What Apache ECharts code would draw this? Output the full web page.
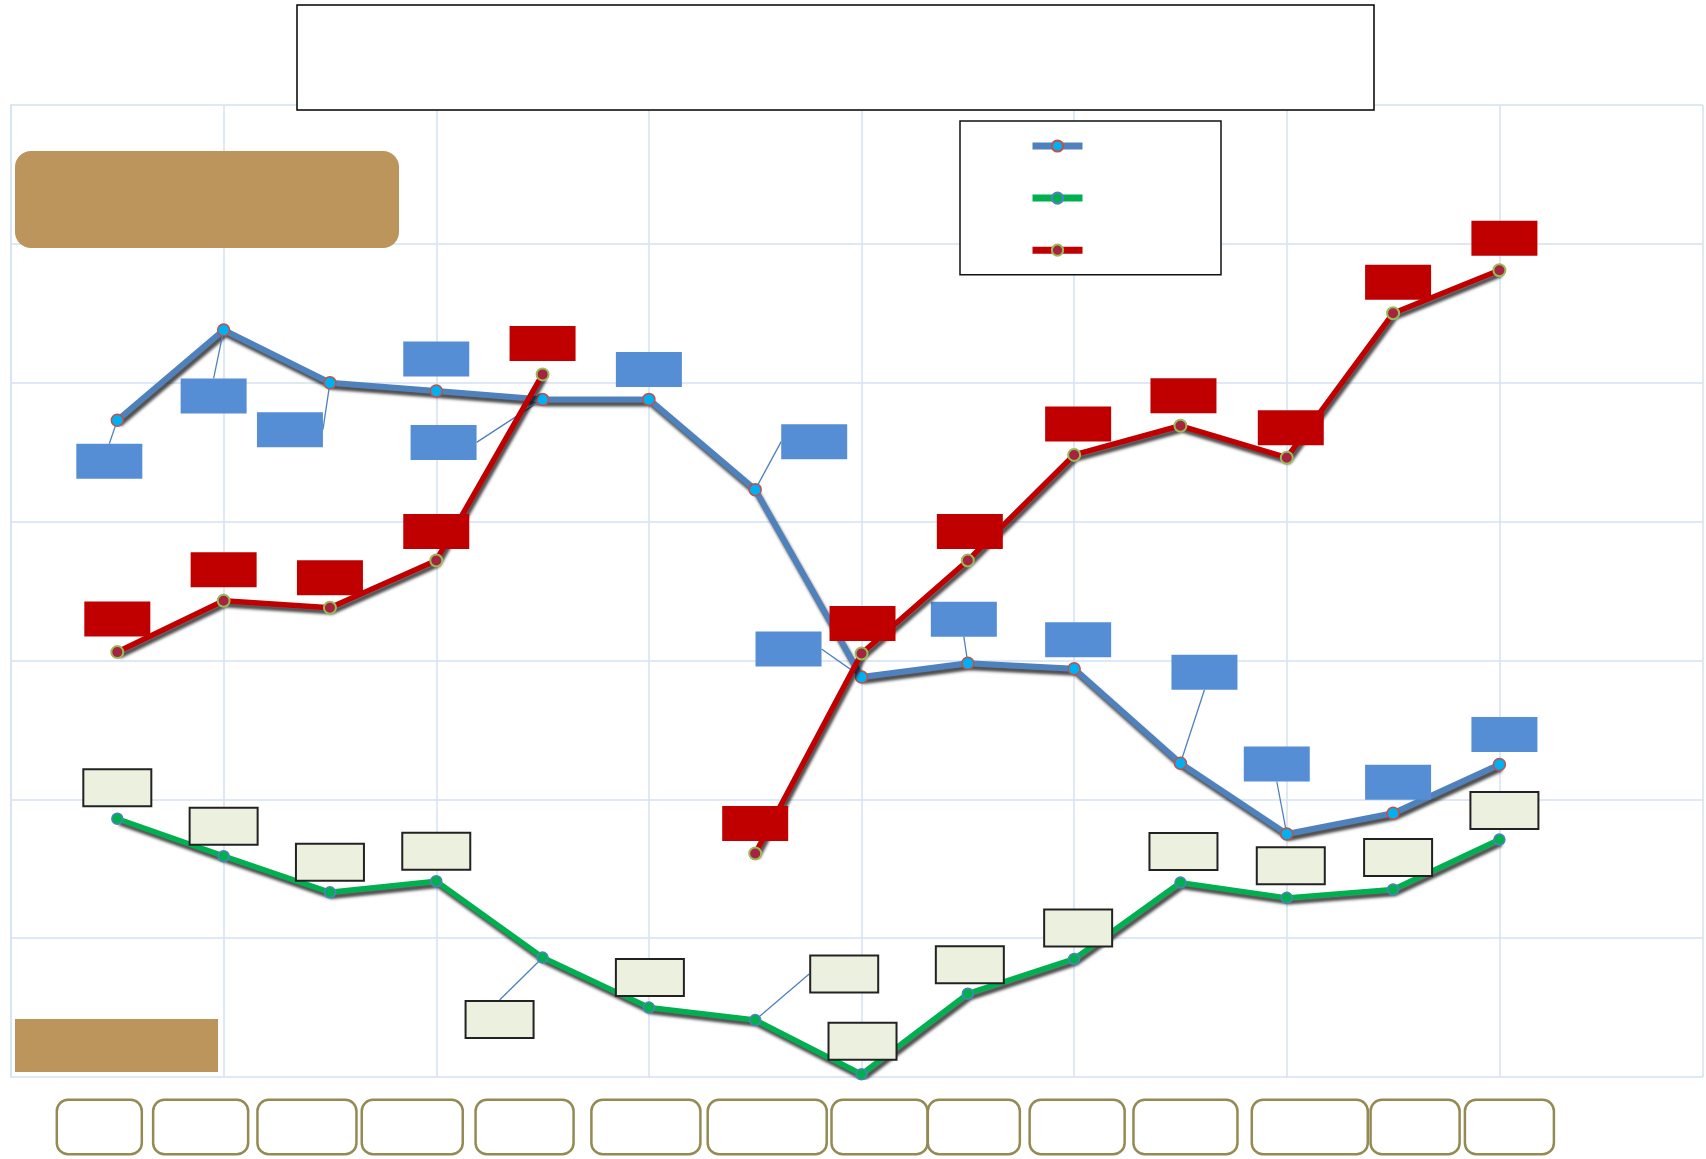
<!DOCTYPE html>
<html>
<head>
<meta charset="utf-8">
<script src="https://cdn.jsdelivr.net/npm/echarts@6/dist/echarts.min.js"></script>
<style>html,body{margin:0;padding:0;background:#fff}#c{width:1706px;height:1159px}</style>
</head>
<body>
<div id="c"></div>
<script>
// ---- data ----
const categories = [1,2,3,4,5,6,7,8,9,10,11,12,13,14];
const seriesNames = ['Series 1','Series 2','Series 3'];
const blueValues  = [4.73, 5.38, 5.00, 4.94, 4.88, 4.88, 4.23, 2.88, 2.98, 2.94, 2.26, 1.75, 1.90, 2.25];
const greenValues = [1.86, 1.59, 1.33, 1.41, 0.86, 0.50, 0.41, 0.02, 0.60, 0.85, 1.40, 1.29, 1.35, 1.71];
const redValues   = [3.06, 3.43, 3.38, 3.72, 5.06, null, 1.61, 3.05, 3.72, 4.48, 4.69, 4.46, 5.50, 5.81];
const categoryLabels = [' ',' ',' ',' ',' ',' ',' ',' ',' ',' ',' ',' ',' ',' '];

// ---- layout / style (not data) ----
const xMax = 15.915;
const boxWidths  = [85, 95, 99, 101, 98, 109, 119, 96, 92, 95, 104, 116, 89, 89];
const boxShift   = [-18, -23, -23, -24, -18, -3, 12, 18, 6, 3, 5, 23, 22, 10];
const blueOff  = [[-8,41],[-10,66],[-40,47],[0,-32],[-99,43],[0,-30],[59,-48],[-73,-28],[-4,-44],[4,-29],[24,-91],[-10,-70],[5,-31],[5,-30]];
const blueLeader = [0,1,2,4,6,7,8,10,11];
const redOff   = [[0,-33],[0,-31],[0,-30],[0,-29],[0,-31],[0,0],[0,-30],[1,-30],[2,-29],[4,-31],[3,-30],[4,-30],[5,-31],[5,-32]];
const greenOff = [[0,-31],[0,-30],[0,-30],[0,-30],[-43,62],[1,-30],[89,-46],[1,-33],[2,-29],[4,-31],[3,-31],[4,-32],[5,-32],[5,-29]];
const greenLeader = [4,6];

function pts(vals){ return vals.map((v,i)=>({value:[categories[i], v]})); }
function withLeaders(arr, leaders){
  return arr.map((d,i)=> leaders.indexOf(i)>=0 ? Object.assign(d,{labelLine:{show:true}}) : d);
}

const rich = {};
categories.forEach((c,i)=>{
  rich['b'+i] = {width: boxWidths[i]-2.5, height: 52, backgroundColor:'#fff', borderColor:'#948A54', borderWidth:2.5, borderRadius:10};
  rich['s'+i] = {width: Math.max(1, Math.abs(boxShift[i])*2)};
});

const chart = echarts.init(document.getElementById('c'), null, {renderer:'canvas'});
const gridColor = '#D5E2F3';

function labelCfg(bg, border, bw){
  return {show:true, position:'inside', formatter:' ', width:66, height:35, padding:0,
    backgroundColor:bg, borderColor:border, borderWidth:bw, fontSize:12};
}

chart.setOption({
  animation:false,
  backgroundColor:'#fff',
  grid:{left:11, right:0, top:105, bottom:82, containLabel:false},
  xAxis:[
    {type:'value', min:0, max:xMax, interval:1, splitLine:{show:false}, axisLine:{show:false}, axisTick:{show:false},
     axisLabel:{margin:24, verticalAlign:'top', rich:rich, formatter:function(v){
        const i = categories.indexOf(v);
        if(i<0) return '';
        const t = categoryLabels[i];
        return boxShift[i] < 0 ? '{b'+i+'|'+t+'}{s'+i+'| }' : '{s'+i+'| }{b'+i+'|'+t+'}';
     }}},
    {type:'value', min:0, max:xMax, interval:2, position:'bottom', splitLine:{show:true, lineStyle:{color:gridColor, width:1.5}},
     axisLine:{show:false}, axisTick:{show:false}, axisLabel:{show:false}}
  ],
  yAxis:{type:'value', min:0, max:7, interval:1, splitLine:{show:true, lineStyle:{color:gridColor, width:1.5}},
    axisLine:{show:true, lineStyle:{color:gridColor, width:1.5}}, axisTick:{show:false}, axisLabel:{show:false}},
  legend:{show:true, orient:'vertical', left:960, top:121, selectedMode:false,
    padding:[18,135,18,69], itemWidth:50, itemHeight:14, itemGap:38.5,
    borderColor:'#111', borderWidth:1.5, backgroundColor:'#fff',
    lineStyle:{width:7},
    formatter:function(){return '';}, textStyle:{fontSize:10},
    data:seriesNames},
  graphic:[
    {type:'rect', z:100, shape:{x:297, y:5, width:1077, height:105}, style:{fill:'#fff', stroke:'#000', lineWidth:1.5}},
    {type:'rect', z:100, shape:{x:15, y:151, width:384, height:97, r:16}, style:{fill:'#BB955B'}},
    {type:'rect', z:100, shape:{x:15, y:1019, width:203, height:53}, style:{fill:'#BB955B'}}
  ],
  series:[
    {name:seriesNames[0], type:'line', xAxisIndex:0, z:3,
     data: withLeaders(pts(blueValues), blueLeader),
     symbol:'circle', symbolSize:12,
     itemStyle:{color:'#00B0F0', borderColor:'#C0504D', borderWidth:1.5},
     lineStyle:{color:'#4F81BD', width:6, shadowColor:'rgba(0,0,0,0.7)', shadowBlur:3, shadowOffsetX:2, shadowOffsetY:4},
     label: labelCfg('#558ED5','#4A7EBB',0),
     labelLine:{show:false, lineStyle:{color:'#4F81BD', width:1.3}},
     labelLayout:function(p){const o=blueOff[p.dataIndex]; return {dx:o[0], dy:o[1]};}
    },
    {name:seriesNames[1], type:'line', xAxisIndex:0, z:3,
     data: withLeaders(pts(greenValues), greenLeader),
     symbol:'circle', symbolSize:11,
     itemStyle:{color:'#00B050', borderColor:'#4F81BD', borderWidth:1.5},
     lineStyle:{color:'#00B050', width:5.5, shadowColor:'rgba(0,0,0,0.7)', shadowBlur:3, shadowOffsetX:2, shadowOffsetY:4},
     label: labelCfg('#EBF1DE','#222',2),
     labelLine:{show:false, lineStyle:{color:'#4F81BD', width:1.3}},
     labelLayout:function(p){const o=greenOff[p.dataIndex]; return {dx:o[0], dy:o[1]};}
    },
    {name:seriesNames[2], type:'line', xAxisIndex:0, z:4, connectNulls:false,
     data: pts(redValues),
     symbol:'circle', symbolSize:12,
     itemStyle:{color:'#A5243F', borderColor:'#9BBB59', borderWidth:2},
     lineStyle:{color:'#C00000', width:5.5, shadowColor:'rgba(0,0,0,0.7)', shadowBlur:3, shadowOffsetX:2, shadowOffsetY:4},
     label: labelCfg('#C00000','#C00000',0),
     labelLayout:function(p){const o=redOff[p.dataIndex]; return {dx:o[0], dy:o[1]};}
    }
  ]
});
</script>
</body>
</html>
